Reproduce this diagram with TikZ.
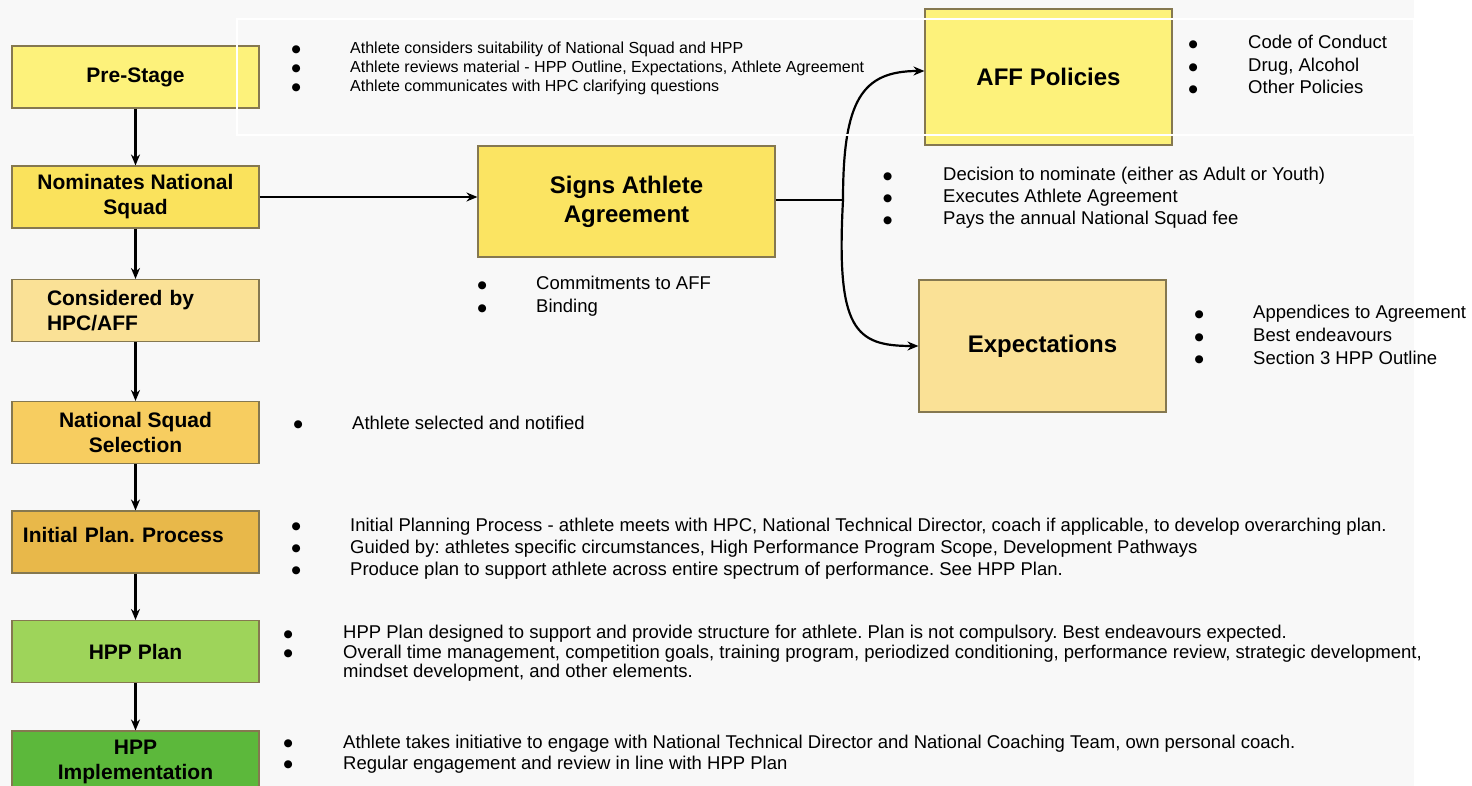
\documentclass[tikz,border=0pt]{standalone}
\usepackage{fontspec}
\setmainfont{Liberation Sans}
\newfontfamily\symfont{DejaVu Sans}
\usetikzlibrary{arrows.meta}
\definecolor{bgcol}{HTML}{F8F8F8}
\definecolor{edgecol}{HTML}{857850}
\definecolor{cPre}{HTML}{FDF27B}
\definecolor{cNom}{HTML}{FAE25C}
\definecolor{cSign}{HTML}{FBE462}
\definecolor{cCons}{HTML}{FAE196}
\definecolor{cNSS}{HTML}{F7CD60}
\definecolor{cIPP}{HTML}{E8B84A}
\definecolor{cPlan}{HTML}{9ED45A}
\definecolor{cImpl}{HTML}{5CB83B}
\frenchspacing
\newcommand\bulsym{\makebox[0pt][c]{\raisebox{1.3pt}{\symfont\fontsize{10.5}{10.5}\selectfont ●}}}
\newcommand\bit[1]{\makebox[#1][l]{\bulsym}}
\newcommand\nobit[1]{\makebox[#1][l]{}}
\tikzset{
  stagebox/.style={draw=edgecol, line width=1.1pt, minimum width=247pt, minimum height=62pt,
    font=\frenchspacing\fontsize{21}{25}\selectfont\bfseries, align=center, inner sep=0pt},
  bigbox/.style={draw=edgecol, line width=1.1pt, font=\fontsize{24}{29}\selectfont\bfseries,
    align=center, inner sep=0pt},
  blist/.style={anchor=base west, inner sep=0pt},
  arr/.style={line width=2.2pt, -{Stealth[length=11pt,width=9pt]}},
  conn/.style={line width=2.2pt}
}
\begin{document}
\begin{tikzpicture}[x=1pt,y=-1pt]
\useasboundingbox (0,0) rectangle (1472,786);
\clip (0,0) rectangle (1472,786);
\fill[bgcol] (0,0) rectangle (1414,786);
\fill[white] (1414,0) rectangle (1472,786);

% left column
\node[stagebox, fill=cPre] (pre) at (135.5,77) {Pre-Stage};
\node[stagebox, fill=cNom] (nom) at (135.5,197) {Nominates National\\Squad};
\node[stagebox, fill=cCons, align=left, text width=177pt] (cons) at (135.5,310.5) {Considered by\\HPC/AFF};
\node[stagebox, fill=cNSS] (nss) at (135.5,432.5) {National Squad\\Selection};
\node[stagebox, fill=cIPP, align=left, text width=225pt] (ipp) at (135.5,542) {\raisebox{7pt}[\height][\depth]{Initial Plan. Process}};
\node[stagebox, fill=cPlan] (plan) at (135.5,651.5) {HPP Plan};
\node[stagebox, fill=cImpl] (impl) at (135.5,762) {HPP\\Implementation};

% middle and right boxes
\node[bigbox, fill=cSign, minimum width=297pt, minimum height=111pt] (signs) at (626.5,201.5) {Signs Athlete\\Agreement};
\node[bigbox, fill=cPre, minimum width=247pt, minimum height=136pt] (aff) at (1048.5,77) {AFF Policies};
\node[bigbox, fill=cCons, minimum width=247pt, minimum height=132pt] (exp) at (1042.5,346) {Expectations};

% connectors
\draw[arr] (pre) -- (nom);
\draw[arr] (nom) -- (cons);
\draw[arr] (cons) -- (nss);
\draw[arr] (nss) -- (ipp);
\draw[arr] (ipp) -- (plan);
\draw[arr] (plan) -- (impl);
\draw[arr] (nom.east) -- (nom.east -| signs.west);
\coordinate (j) at (843,200);
\draw[conn] (signs.east |- j) -- (j);
\draw[arr] (j) .. controls (843,100) and (862,71) .. ([yshift=6pt]aff.west);
\draw[arr] (j) .. controls (836,330) and (855,346) .. (exp.west);

% bullet lists
\node[blist, font=\fontsize{16}{19}\selectfont] (prelist) at (296,53.5) {\begin{tabular}[t]{@{}l@{}}
\bit{54pt}Athlete considers suitability of National Squad and HPP\\
\bit{54pt}Athlete reviews material - HPP Outline, Expectations, Athlete Agreement\\
\bit{54pt}Athlete communicates with HPC clarifying questions
\end{tabular}};

\node[blist, font=\fontsize{18.5}{22.5}\selectfont] (afflist) at (1193,49) {\begin{tabular}[t]{@{}l@{}}
\bit{55pt}Code of Conduct\\
\bit{55pt}Drug, Alcohol\\
\bit{55pt}Other Policies
\end{tabular}};

\node[blist, font=\fontsize{18.5}{22}\selectfont] (declist) at (887.5,181) {\begin{tabular}[t]{@{}l@{}}
\bit{55.5pt}Decision to nominate (either as Adult or Youth)\\
\bit{55.5pt}Executes Athlete Agreement\\
\bit{55.5pt}Pays the annual National Squad fee
\end{tabular}};

\node[blist, font=\fontsize{18.5}{23}\selectfont] (signlist) at (482,289.5) {\begin{tabular}[t]{@{}l@{}}
\bit{54pt}Commitments to AFF\\
\bit{54pt}Binding
\end{tabular}};

\node[blist, font=\fontsize{18.5}{22.5}\selectfont] (explist) at (1199,319) {\begin{tabular}[t]{@{}l@{}}
\bit{54pt}Appendices to Agreement\\
\bit{54pt}Best endeavours\\
\bit{54pt}Section 3 HPP Outline
\end{tabular}};

\node[blist, font=\fontsize{18.5}{22}\selectfont] (nsslist) at (298,429) {\begin{tabular}[t]{@{}l@{}}
\bit{54pt}Athlete selected and notified
\end{tabular}};

\node[blist, font=\fontsize{18.5}{22}\selectfont] (ipplist) at (296,531) {\begin{tabular}[t]{@{}l@{}}
\bit{54pt}Initial Planning Process - athlete meets with HPC, National Technical Director, coach if applicable, to develop overarching plan.\\
\bit{54pt}Guided by: athletes specific circumstances, High Performance Program Scope, Development Pathways\\
\bit{54pt}Produce plan to support athlete across entire spectrum of performance. See HPP Plan.
\end{tabular}};

\node[blist, font=\fontsize{18.5}{19.5}\selectfont] (planlist) at (288,638.5) {\begin{tabular}[t]{@{}l@{}}
\bit{55pt}HPP Plan designed to support and provide structure for athlete. Plan is not compulsory. Best endeavours expected.\\
\bit{55pt}Overall time management, competition goals, training program, periodized conditioning, performance review, strategic development,\\
\nobit{55pt}mindset development, and other elements.
\end{tabular}};

\node[blist, font=\fontsize{18.5}{21}\selectfont] (impllist) at (288,748) {\begin{tabular}[t]{@{}l@{}}
\bit{55pt}Athlete takes initiative to engage with National Technical Director and National Coaching Team, own personal coach.\\
\bit{55pt}Regular engagement and review in line with HPP Plan
\end{tabular}};

% white frame drawn on top
\draw[white, line width=1.5pt] (237,19) rectangle (1414,135);
\end{tikzpicture}
\end{document}
